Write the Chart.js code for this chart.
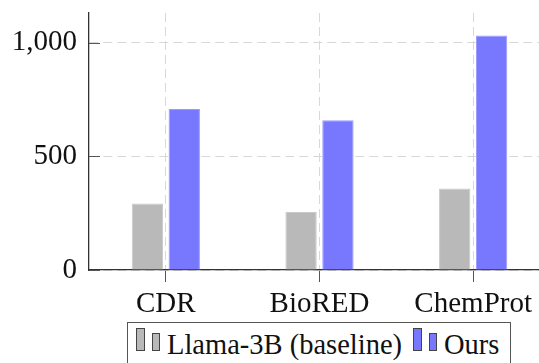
<!DOCTYPE html>
<html>
<head>
<meta charset="utf-8">
<script src="https://cdn.jsdelivr.net/npm/chart.js@4.4.1/dist/chart.umd.min.js"></script>
<style>
    html, body { margin: 0; padding: 0; background: #fff; width: 539px; height: 363px; overflow: hidden; }
    #wrap { position: absolute; left: 0; top: 0; width: 550px; height: 363px; }
    #legend {
        position: absolute; left: 127px; top: 322px; width: 384px; height: 60px;
        border: 1.3px solid #555; background: #fff; box-sizing: border-box;
        font-family: "Liberation Serif", "Times New Roman", serif; font-size: 28.5px; color: #111;
    }
    #legend .bar { position: absolute; box-sizing: border-box; border: 1px solid #444; }
    #legend .txt { position: absolute; top: 8px; line-height: 28px; white-space: nowrap; }
</style>
</head>
<body>
<div id="wrap"><canvas id="chart"></canvas></div>
<div id="legend"></div>
<script>
// Data
const categories = ['CDR', 'BioRED', 'ChemProt'];
const baselineValues = [292, 255, 358];
const oursValues = [708, 658, 1031];
const yTicks = [0, 500, 1000];
const seriesNames = ['Llama-3B (baseline)', 'Ours'];

const grayFill = '#b9b9b9';
const blueFill = '#7878ff';
const serif = "'Liberation Serif', 'Times New Roman', serif";

// inward solid tick marks on the y axis (pgfplots style)
const inwardTicks = {
    id: 'inwardTicks',
    afterDraw(chart) {
        const y = chart.scales.y;
        const c = chart.ctx;
        c.save();
        c.strokeStyle = '#555';
        c.lineWidth = 1;
        yTicks.forEach(v => {
            const py = Math.round(y.getPixelForValue(v)) + 0.5;
            c.beginPath();
            c.moveTo(chart.chartArea.left, py);
            c.lineTo(chart.chartArea.left + 11, py);
            c.stroke();
        });
        c.restore();
    }
};

const ctx = document.getElementById('chart').getContext('2d');
new Chart(ctx, {
    type: 'bar',
    data: {
        labels: categories,
        datasets: [
            {
                label: seriesNames[0],
                data: baselineValues,
                backgroundColor: grayFill,
                borderColor: '#c9c9c9',
                borderWidth: 1
            },
            {
                label: seriesNames[1],
                data: oursValues,
                backgroundColor: blueFill,
                borderColor: '#9a9aff',
                borderWidth: 1
            }
        ]
    },
    options: {
        responsive: true,
        maintainAspectRatio: false,
        animation: false,
        layout: { padding: { top: 13, right: 0, bottom: 0, left: 0 } },
        datasets: {
            bar: { categoryPercentage: 0.48, barPercentage: 0.85 }
        },
        scales: {
            x: {
                offset: true,
                grid: {
                    offset: false,
                    color: '#d8d8d8',
                    drawTicks: true,
                    tickLength: 12,
                    tickColor: '#555',
                    tickBorderDash: []
                },
                // in v4 the grid line dash is read from border.dash
                border: { display: true, color: '#333', width: 1.3, dash: [9, 5] },
                ticks: {
                    color: '#111',
                    padding: 5,
                    font: { family: serif, size: 29 }
                },
                afterFit(scale) {
                    scale.height = 93;
                    scale.paddingLeft = 0;
                    scale.paddingRight = 0;
                }
            },
            y: {
                min: 0,
                max: 1130,
                afterBuildTicks(scale) {
                    scale.ticks = yTicks.map(v => ({ value: v }));
                },
                grid: {
                    color: '#d8d8d8',
                    drawTicks: false
                },
                border: { display: true, color: '#333', width: 1.3, dash: [9, 5] },
                ticks: {
                    color: '#111',
                    padding: 12,
                    font: { family: serif, size: 29 },
                    callback: v => v.toLocaleString('en-US')
                },
                afterFit(scale) {
                    scale.width = 89;
                    scale.paddingTop = 0;
                    scale.paddingBottom = 0;
                }
            }
        },
        plugins: {
            legend: { display: false },
            tooltip: { enabled: false }
        }
    },
    plugins: [inwardTicks]
});

// Legend (pgfplots ybar style: two small bars per entry)
const legend = document.getElementById('legend');
const legendItems = [
    { name: seriesNames[0], fill: grayFill, x: 8 },
    { name: seriesNames[1], fill: blueFill, x: 285 }
];
legendItems.forEach(item => {
    const tall = document.createElement('div');
    tall.className = 'bar';
    tall.style.cssText = `left:${item.x}px;top:5px;width:9px;height:23px;background:${item.fill}`;
    const short = document.createElement('div');
    short.className = 'bar';
    short.style.cssText = `left:${item.x + 16}px;top:10px;width:8px;height:18px;background:${item.fill}`;
    const txt = document.createElement('span');
    txt.className = 'txt';
    txt.style.left = (item.x + 31) + 'px';
    txt.textContent = item.name;
    legend.append(tall, short, txt);
});
</script>
</body>
</html>
